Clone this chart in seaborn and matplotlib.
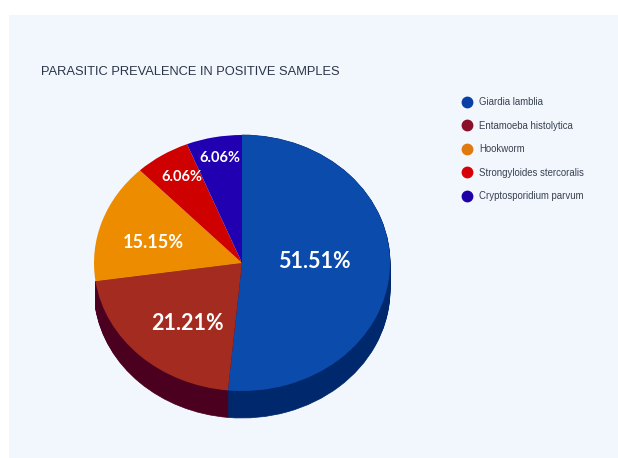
import matplotlib
matplotlib.use('Agg')
import matplotlib.pyplot as plt
from matplotlib.lines import Line2D
from matplotlib.patches import Rectangle
import numpy as np
import seaborn as sns

sns.set_theme(style='white')
plt.rcParams['font.family'] = ['Liberation Sans', 'DejaVu Sans']

parasites = ['Giardia lamblia', 'Entamoeba histolytica', 'Hookworm',
             'Strongyloides stercoralis', 'Cryptosporidium parvum']
prevalence = [51.51, 21.21, 15.15, 6.06, 6.06]

top_colors = ['#0a4bab', '#a32b20', '#ee8c00', '#cf0000', '#2100b2']
side_colors = ['#00286c', '#4c0020', '#8a5200', '#7a0000', '#120066']
legend_colors = ['#0a3fa6', '#8a0f28', '#e07a10', '#d80008', '#1f00a6']

# pie is unit radius, so the axes limits squash it into an ellipse
w, h = 618, 458
cx, cy, rx, ry = 242, 263, 148, 128
depth = 27 / ry

fig = plt.figure(figsize=(w / 100, h / 100), dpi=100, facecolor='white')
fig.add_artist(Rectangle((9 / w, 0), 609 / w, 1 - 15 / h, transform=fig.transFigure,
                         facecolor='#f2f7fe', edgecolor='none', zorder=-10))
ax = fig.add_axes([0, 0, 1, 1])
ax.patch.set_visible(False)

# side wall: same pie repeated downwards, only the two front slices show a wall
for off in np.linspace(depth, 0, 28):
    side, _ = ax.pie(prevalence, colors=side_colors, startangle=90, counterclock=False,
                     center=(0, -off), normalize=True)
    for i, s in enumerate(side):
        s.set_edgecolor(s.get_facecolor())
        s.set_linewidth(0.5)
        s.set_visible(i < 2)
wedges, _ = ax.pie(prevalence, colors=top_colors, startangle=90, counterclock=False,
                   center=(0, 0), normalize=True, wedgeprops={'linewidth': 0})

ax.set_aspect('auto')
ax.set_xlim(-cx / rx, (w - cx) / rx)
ax.set_ylim((cy - h) / ry, cy / ry)

# slice labels, centres in picture pixels
label_px = [(314, 261), (187, 323), (153, 243), (182, 177), (220, 158)]
label_size = [15.5, 15.5, 13, 10.5, 10.5]
for val, (px, py), size in zip(prevalence, label_px, label_size):
    ax.text((px - cx) / rx, (cy - py) / ry, f'{val:.2f}%', color='white',
            fontsize=size, fontweight='bold', family='Lato',
            ha='center', va='center')

fig.text(41 / w, 1 - 72 / h, 'PARASITIC PREVALENCE IN POSITIVE SAMPLES', fontsize=9.3,
         color='#2b3547', ha='left', va='center')

handles = [Line2D([], [], linestyle='none', marker='o', markersize=7.5, color=c) for c in legend_colors]
leg = ax.legend(handles, parasites, loc='upper left', bbox_to_anchor=(457 / w, 1 - 97 / h),
                bbox_transform=fig.transFigure, frameon=False, fontsize=6.9,
                labelspacing=1.42, handletextpad=0.3, borderpad=0, borderaxespad=0)
for t in leg.get_texts():
    t.set_color('#39414f')

fig.savefig('out.png', dpi=100, facecolor='white')
